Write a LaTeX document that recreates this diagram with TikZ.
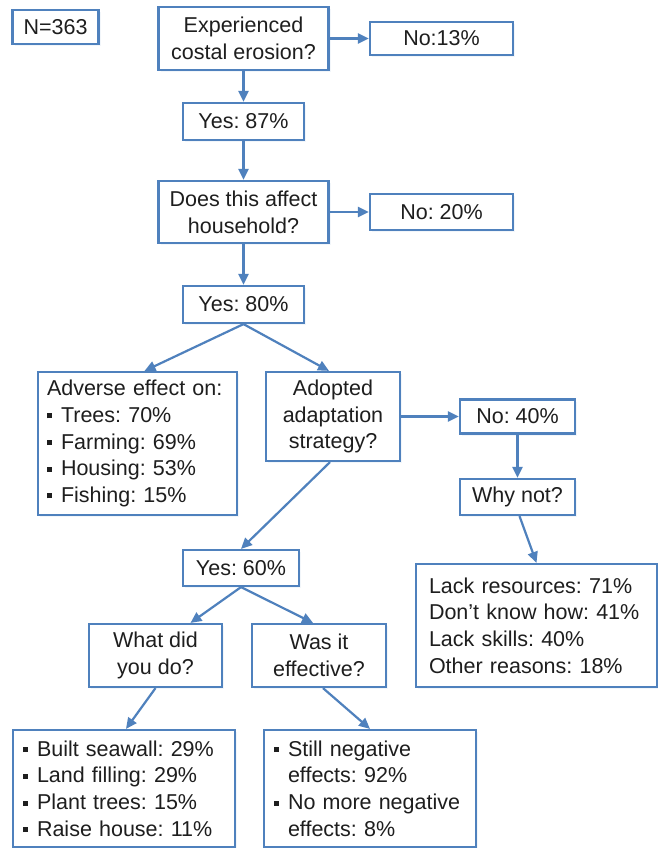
\documentclass[tikz,border=0pt]{standalone}
\usepackage{fontspec}
\setmainfont{Liberation Sans}
\usetikzlibrary{arrows.meta,calc,shadows}
\definecolor{bx}{HTML}{4F81BD}
\definecolor{tx}{HTML}{1E1E1E}
\newcommand\bul{\makebox[14pt][l]{\rule[4pt]{5pt}{5pt}}}
\frenchspacing
\begin{document}
\begin{tikzpicture}[x=1pt,y=-1pt,
  box/.style={draw=bx, line width=2.2pt, fill=white, text=tx, inner sep=0pt,
    font=\fontsize{21.5}{26.7}\selectfont\frenchspacing,
    drop shadow={shadow xshift=2pt, shadow yshift=-2pt, opacity=0.07, fill=bx}},
  cbox/.style={box, align=center},
  lbox/.style={box, align=left},
  conn/.style={draw=bx, line width=2.2pt, -{Triangle[length=11pt,width=10pt]}},
]
\useasboundingbox (0,0) rectangle (658,848);
\fill[white] (0,0) rectangle (658,848);

\node[cbox, minimum width=86pt, minimum height=34pt] (N) at (55.5,27) {N=363};
\node[cbox, minimum width=170pt, minimum height=63pt] (Exp) at (243.5,38.5) {Experienced\\costal erosion?};
\node[cbox, minimum width=143pt, minimum height=33pt] (No13) at (441.5,38.5) {No:13\%};
\node[cbox, minimum width=121pt, minimum height=37pt] (Y87) at (243.5,121.5) {Yes: 87\%};
\node[cbox, minimum width=170pt, minimum height=62pt] (Does) at (243.5,212) {Does this affect\\household?};
\node[cbox, minimum width=143pt, minimum height=36pt] (No20) at (441.5,212) {No: 20\%};
\node[cbox, minimum width=121pt, minimum height=37pt] (Y80) at (243.5,304.5) {Yes: 80\%};

\node[lbox, text width=181pt, inner xsep=9pt, minimum height=143pt] (Adv) at (137.5,443.5)
  {Adverse effect on:\\\bul Trees: 70\%\\\bul Farming: 69\%\\\bul Housing: 53\%\\\bul Fishing: 15\%};
\node[cbox, minimum width=134pt, minimum height=89pt] (Adopt) at (333,416.5) {Adopted\\adaptation\\strategy?};
\node[cbox, minimum width=115pt, minimum height=34pt] (No40) at (517.5,416.5) {No: 40\%};
\node[cbox, minimum width=115pt, minimum height=36pt] (Why) at (517.5,497) {Why not?};

\node[cbox, minimum width=116pt, minimum height=36pt] (Y60) at (241,568) {Yes: 60\%};
\node[lbox, text width=215pt, inner xsep=13pt, minimum height=123pt] (Lack) at (536.5,625.5)
  {Lack resources: 71\%\\Don’t know how: 41\%\\Lack skills: 40\%\\Other reasons: 18\%};
\node[cbox, minimum width=133pt, minimum height=63pt] (What) at (155.5,655.5) {What did\\you do?};
\node[cbox, minimum width=134pt, minimum height=63pt] (Was) at (319,655.5) {Was it\\effective?};

\node[lbox, text width=202pt, inner xsep=10pt, minimum height=117pt] (Built) at (124,788.5)
  {\bul Built seawall: 29\%\\\bul Land filling: 29\%\\\bul Plant trees: 15\%\\\bul Raise house: 11\%};
\node[lbox, text width=192pt, inner xsep=10pt, minimum height=117pt] (Still) at (370,788.5)
  {\bul Still negative\\\hspace*{14pt}effects: 92\%\\\bul No more negative\\\hspace*{14pt}effects: 8\%};

\draw[conn] (Exp.east) -- (No13.west);
\draw[conn] (Exp.south) -- (Y87.north);
\draw[conn] (Y87.south) -- (Does.north);
\draw[conn] (Does.east) -- (Does.east -| No20.west);
\draw[conn] (Does.south) -- (Y80.north);
\draw[conn] (Y80.south) -- ($(Adv.north)+(7,0)$);
\draw[conn] (Y80.south) -- ($(Adopt.north)+(-4,0)$);
\draw[conn] (Adopt.east) -- (No40.west);
\draw[conn] (No40.south) -- (Why.north);
\draw[conn] ($(Why.south)+(2,0)$) -- (Lack.north);
\draw[conn] ($(Adopt.south)+(-3,0)$) -- (Y60.north);
\draw[conn] (Y60.south) -- ($(What.north)+(35,0)$);
\draw[conn] (Y60.south) -- ($(Was.north)+(-6,0)$);
\draw[conn] (What.south) -- ($(Built.north)+(2,0)$);
\draw[conn] ($(Was.south)+(4,0)$) -- (Still.north);
\end{tikzpicture}
\end{document}
